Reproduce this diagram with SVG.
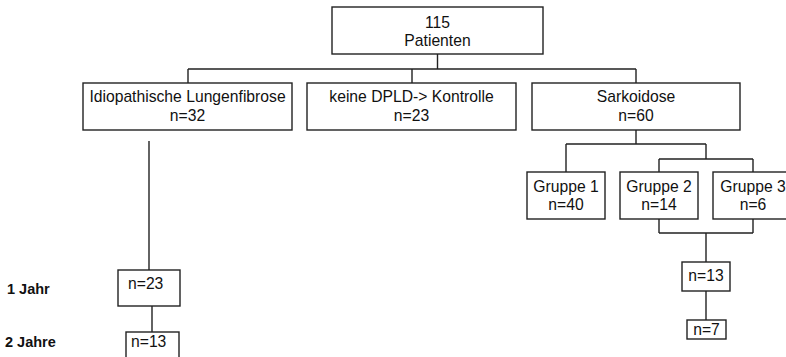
<svg xmlns="http://www.w3.org/2000/svg" width="786" height="357" viewBox="0 0 786 357">
<style>
rect{fill:#fff;stroke:#222;stroke-width:1.4}
.c path{fill:none;stroke:#222;stroke-width:1.4}
text{font-family:"Liberation Sans",Arial,sans-serif;font-size:15.7px;fill:#111}
.m{text-anchor:middle}
.b{font-weight:bold;font-size:14.5px}
</style>
<rect x="0" y="0" width="786" height="357" style="stroke:none"/>
<g class="c">
<path d="M437.5 54V69M188 69H636M188 69V83M412 69V83M636 69V83"/>
<path d="M149 141V270"/>
<path d="M152 306V332"/>
<path d="M636 130V144M566 144H706M566 144V172M706 144V159M659 159H753M659 159V172M753 159V172"/>
<path d="M659 219V233M753 219V233M659 233H753M706 233V262"/>
<path d="M706 291V320"/>
</g>
<g id="root"><rect x="332" y="7" width="211" height="47"/><text class="m" x="437.5" y="28">115</text><text class="m" x="437.5" y="46">Patienten</text></g>
<g id="ipf"><rect x="83" y="83" width="209" height="47"/><text class="m" x="187.5" y="102">Idiopathische Lungenfibrose</text><text class="m" x="187.5" y="121">n=32</text></g>
<g id="kontrolle"><rect x="307" y="83" width="209" height="47"/><text class="m" x="411.5" y="102">keine DPLD-&gt; Kontrolle</text><text class="m" x="411.5" y="121">n=23</text></g>
<g id="sarkoidose"><rect x="532" y="83" width="208" height="47"/><text class="m" x="636" y="102">Sarkoidose</text><text class="m" x="636" y="121">n=60</text></g>
<g id="g1"><rect x="527" y="172" width="78" height="47"/><text class="m" x="566" y="192">Gruppe 1</text><text class="m" x="566" y="210">n=40</text></g>
<g id="g2"><rect x="620" y="172" width="78" height="47"/><text class="m" x="659" y="192">Gruppe 2</text><text class="m" x="659" y="210">n=14</text></g>
<g id="g3"><rect x="713" y="172" width="78" height="47"/><text class="m" x="753" y="192">Gruppe 3</text><text class="m" x="753" y="210">n=6</text></g>
<g id="ipf1"><rect x="118" y="270" width="62" height="36"/><text x="128" y="289">n=23</text></g>
<g id="ipf2"><rect x="126" y="332" width="53" height="30"/><text x="131" y="347">n=13</text></g>
<g id="s1"><rect x="682" y="262" width="48" height="29"/><text class="m" x="706" y="281">n=13</text></g>
<g id="s2"><rect x="687" y="320" width="39" height="19"/><text class="m" x="706.5" y="335">n=7</text></g>
<g id="labels"><text class="b" x="7" y="294">1 Jahr</text><text class="b" x="5" y="347">2 Jahre</text></g>
</svg>
